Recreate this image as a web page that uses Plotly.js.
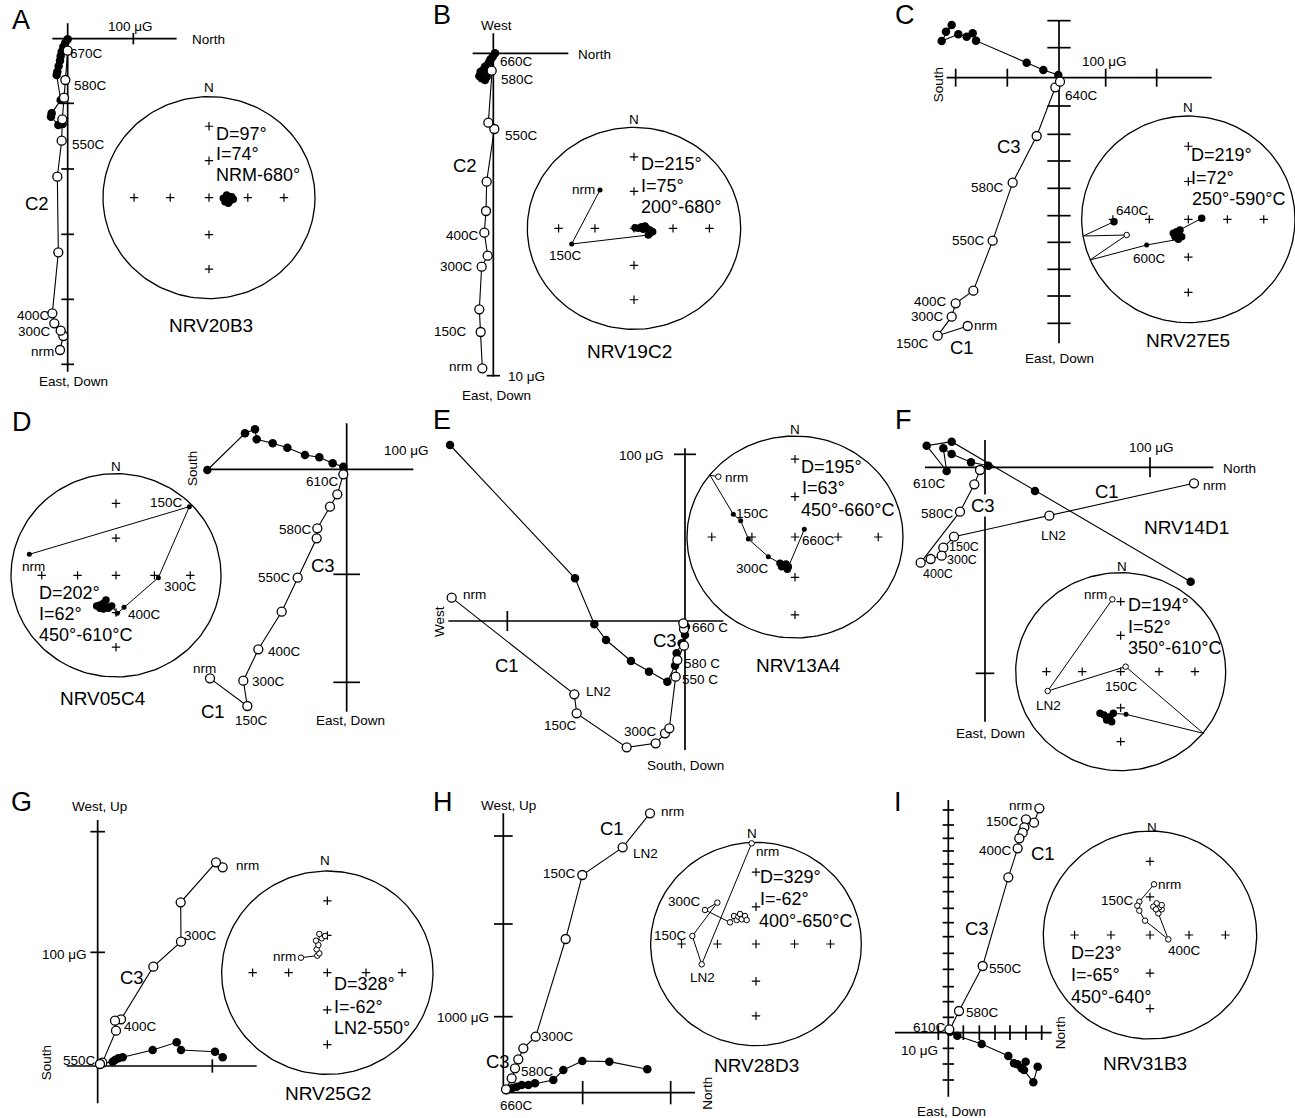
<!DOCTYPE html>
<html><head><meta charset="utf-8">
<script src="https://cdn.plot.ly/plotly-3.0.1.min.js"></script>
<style>html,body{margin:0;padding:0;background:#fff}</style>
</head><body>
<div id="chart" style="width:1295px;height:1118px"></div>
<script>
// ---------- DATA (plot units relative to each diagram origin; x right, y up) ----------
// Panel A  NRV20B3
const zA_openX = [-23,-13,-21,-40,-46,-28,-31,-18,-16,-11,-7,0];
const zA_openY = [-934,-892,-876,-854,-824,-641,-414,-306,-242,-177,-124,-36];
const zA_fillX = [-15,-28,-50,-48,-21,-33,-31,-27,-23,-21,-18,-13,-7,0];
const zA_fillY = [-256,-259,-234,-224,-184,-109,-99,-82,-66,-52,-39,-24,-12,-2];
const tickA_x = [197], tickA_y = [-194,-391,-587,-782,-977];
const netA_x = [43,53,63,73,58,48,63,68,53];
const netA_y = [-2,8,3,-5,-17,-12,-10,3,-7];
const netA_k = 'fffffffff';
// Panel B  NRV19C2
const zB_openX = [-33,-38,-42,-35,-17,-27,-22,-20,3,-15,-5];
const zB_openY = [-945,-836,-768,-640,-607,-538,-473,-385,-227,-208,-52];
const zB_fillX = [-20,-25,-35,-42,-38,-30,-25,-18,-12,-8,-2,5];
const zB_fillY = [-70,-80,-75,-68,-55,-50,-40,-35,-25,-18,-10,0];
const tickB_x = [], tickB_y = [-967];
const netB_x = [-102,-187,43,48,56,48,38,33,23,13,3,28];
const netB_y = [115,-47,-20,-15,-10,-5,0,7,5,0,2,-3];
const netB_k = 'ssffffffffff';
// Panel C  NRV27E5
const zC_openX = [-274,-364,-322,-310,-257,-199,-139,-67,-11,3];
const zC_openY = [-745,-774,-717,-677,-639,-489,-315,-175,-29,-12];
const zC_fillX = [-339,-322,-352,-302,-277,-259,-249,-97,-47,-2];
const zC_fillY = [138,158,110,130,123,133,111,45,23,8];
const tickC_x = [-310,-155,140,293];
const tickC_y = [171,90,-85,-170,-250,-332,-414,-494,-575,-655,-737];
const netC_x = [40,-25,-35,-45,-30,-20,-40,-30,-125,-295,-185,-315,-223];
const netC_y = [3,-32,-37,-42,-47,-52,-52,-60,-77,-122,-47,-50,-7];
const netC_k = 'ffffffffseoef';
// Panel D  NRV05C4
const zD_openX = [-410,-298,-310,-265,-195,-147,-90,-88,-50,-28,-10];
const zD_openY = [-627,-710,-634,-540,-427,-325,-207,-177,-112,-75,-15];
const zD_fillX = [-418,-305,-275,-270,-222,-178,-125,-82,-42,-10];
const zD_fillY = [-2,108,120,90,78,65,43,36,18,8];
const tickD_x = [], tickD_y = [-315,-639];
const netD_x = [-260,220,127,24,4,-13,-23,-28,-38,-30,-38,-48,-48,-58];
const netD_y = [63,206,-7,-96,-114,-92,-99,-94,-84,-74,-101,-89,-99,-92];
const netD_k = 'sssssfffffffff';
// Panel E  NRV13A4
const zE_openX = [-700,-332,-325,-175,-88,-60,-47,-28,-23,-3,-3,-5];
const zE_openY = [70,-220,-277,-379,-367,-337,-322,-167,-117,-74,-24,-7];
const zE_fillX = [-705,-330,-272,-237,-162,-108,-53,-30,-25,-10,0,3];
const zE_fillY = [528,128,-10,-57,-120,-152,-182,-134,-97,-67,-42,-17];
const tickE_x = [-533], tickE_y = [500];
const netE_x = [-230,-255,-185,-163,-140,-80,-45,-40,-35,-27,-20,-23,28];
const netE_y = [181,185,68,49,-6,-59,-79,-89,-87,-81,-89,-97,23];
const netE_k = 'oessssffffffs';
// Panel F  NRV14D1
const zF_openX = [627,193,-93,-125,-130,-163,-193,-75,-32,-15];
const zF_openY = [-48,-145,-208,-241,-265,-275,-286,-133,-51,-8];
const zF_fillX = [617,150,-100,-175,-115,-125,-100,-42,10];
const zF_fillY = [-343,-71,77,65,-11,57,40,15,5];
const tickF_x = [495], tickF_y = [-618];
const netF_x = [-25,-219,15,248,16,-22,-27,-32,-37,-42,-50,-62];
const netF_y = [217,-58,15,-185,-128,-125,-150,-135,-140,-145,-130,-125];
const netF_k = 'oooesfffffff';
// Panel G  NRV25G2
const zG_openX = [375,355,249,250,167,70,52,55,14,7];
const zG_openY = [596,611,491,373,298,140,136,106,10,6];
const zG_fillX = [375,352,250,237,165,75,62,52,45,7];
const zG_fillY = [26,43,48,71,48,26,23,18,13,6];
const tickG_x = [344], tickG_y = [703,341];
const netG_x = [-79,-30,-24,-32,-27,-34,-17,-24,-7];
const netG_y = [45,51,58,70,83,96,103,116,110];
const netG_k = 'ooooooooo';
// Panel H  NRV28D3
const zH_openX = [440,358,237,187,97,60,45,35,25,8];
const zH_openY = [838,736,653,461,168,133,100,73,43,10];
const zH_fillX = [432,318,237,180,150,95,75,55,40,25,10];
const zH_fillY = [70,93,95,68,38,28,23,23,18,13,8];
const tickH_x = [238,502], tickH_y = [770,506,228];
const netH_x = [-13,-163,-191,-116,-153,-78,-66,-58,-53,-48,-43,-33,-28];
const netH_y = [302,-61,24,124,102,65,84,72,82,90,74,84,72];
const netH_k = 'ooooooooooooo';
// Panel I  NRV31B3
const zI_openX = [273,257,233,228,223,213,208,180,103,32,3];
const zI_openY = [673,630,640,616,600,583,553,466,200,65,10];
const zI_fillX = [268,255,227,232,220,207,197,180,100,27,5];
const zI_fillY = [-102,-149,-112,-87,-107,-95,-92,-70,-34,-9,3];
const tickI_x = [-30,45,93,140,185,233,280];
const tickI_y = [668,623,583,545,506,466,423,373,330,288,238,190,138,93,46,-47,-94,-142];
const netI_x = [12,-32,-38,-32,-15,55,25,35,28,35,20,10,18];
const netI_y = [152,100,88,73,43,-13,65,77,83,90,95,85,77];
const netI_k = 'ooooooooooooo';
// stereonet grid inclinations
const gridInc = [60,30];

// ---------- LAYOUT CONFIG ----------
const W=1295, H=1118;
const FONT='"Liberation Sans", Arial, Helvetica, sans-serif';
const S=13.5, SS=12.5, BIG=18.5, TXT=18, NAME=19, LET=27;
// label: [zx, zy, text, size, anchor, rotate, bg]
const P = [
 {crop:[0,0], o:[203,116], axH:[-46,327], axV:[46,-999], tX:tickA_x, tXh:17, tY:tickA_y, tYh:19,
  open:[zA_openX,zA_openY], fill:[zA_fillX,zA_fillY],
  net:{c:[627,593], rx:318, ry:303, g:1, x:netA_x, y:netA_y, k:netA_k, line:false},
  labels:[[62,60,'A',LET,'center'],[390,78,'100 μG',S,'center'],[572,117,'North',S,'left'],[220,1145,'East, Down',S,'center'],
   [110,610,'C2',BIG,'center'],[208,160,'670C',S,'left'],[218,255,'580C',S,'left'],[212,432,'550C',S,'left'],
   [152,945,'400C',S,'right'],[155,995,'300C',S,'right'],[165,1055,'nrm',S,'right'],
   [628,262,'N',S,'center'],[646,402,'D=97°',TXT,'left'],[646,462,'I=74°',TXT,'left'],[646,525,'NRM-680°',TXT,'left'],[632,975,'NRV20B3',NAME,'center']]},
 {crop:[430,0], o:[190,160], axH:[-62,225], axV:[60,-970], tX:tickB_x, tXh:20, tY:tickB_y, tYh:20,
  open:[zB_openX,zB_openY], fill:[zB_fillX,zB_fillY],
  net:{c:[612,685], rx:320, ry:303, g:1, x:netB_x, y:netB_y, k:netB_k, line:true},
  labels:[[35,45,'B',LET,'center'],[200,75,'West',S,'center'],[440,162,'North',S,'left'],[200,1185,'East, Down',S,'center'],
   [232,1128,'10 μG',S,'left'],[206,185,'660C',S,'left'],[210,238,'580C',S,'left'],[222,405,'550C',S,'left'],
   [105,495,'C2',BIG,'center'],[150,705,'400C',S,'right'],[132,800,'300C',S,'right'],[115,995,'150C',S,'right'],[128,1100,'nrm',S,'right'],
   [612,358,'N',S,'center'],[497,568,'nrm',S,'right'],[405,765,'150C',S,'center'],[630,492,'D=215°',TXT,'left'],[630,558,'I=75°',TXT,'left'],
   [630,620,'200°-680°',TXT,'left'],[598,1055,'NRV19C2',NAME,'center']]},
 {crop:[860,0], o:[597,233], axH:[-337,458], axV:[173,-797], tX:tickC_x, tXh:27, tY:tickC_y, tYh:35,
  open:[zC_openX,zC_openY], fill:[zC_fillX,zC_fillY],
  net:{c:[985,658], rx:320, ry:310, g:1, x:netC_x, y:netC_y, k:netC_k, line:true},
  labels:[[135,45,'C',LET,'center'],[733,185,'100 μG',S,'center'],[235,255,'South',S,'center',-90],[598,1075,'East, Down',S,'center'],
   [447,438,'C3',BIG,'center'],[305,1043,'C1',BIG,'center'],[612,285,'640C',S,'left'],[435,562,'580C',S,'right'],[378,722,'550C',S,'right'],
   [265,905,'400C',S,'right'],[255,950,'300C',S,'right'],[210,1030,'150C',S,'right'],[338,975,'nrm',S,'left'],
   [985,322,'N',S,'center'],[765,632,'640C',S,'left'],[815,775,'600C',S,'left'],[990,465,'D=219°',TXT,'left'],[990,535,'I=72°',TXT,'left'],
   [993,598,'250°-590°C',TXT,'left'],[983,1020,'NRV27E5',NAME,'center']]},
 {crop:[0,405], o:[1040,193], axH:[-422,200], axV:[138,-727], tX:tickD_x, tXh:20, tY:tickD_y, tYh:40,
  open:[zD_openX,zD_openY], fill:[zD_fillX,zD_fillY],
  net:{c:[348,511], rx:315, ry:305, g:1, x:netD_x, y:netD_y, k:netD_k, line:true},
  labels:[[65,50,'D',LET,'center'],[1220,135,'100 μG',S,'center'],[578,190,'South',S,'center',-90],[1050,945,'East, Down',S,'center'],
   [970,480,'C3',BIG,'center'],[640,920,'C1',BIG,'center'],[1020,228,'610C',S,'right'],[940,373,'580C',S,'right'],[875,518,'550C',S,'right'],
   [800,740,'400C',S,'left'],[752,830,'300C',S,'left'],[755,945,'150C',S,'center'],[612,790,'nrm',S,'center'],
   [348,183,'N',S,'center'],[500,292,'150C',S,'center'],[100,485,'nrm',S,'center'],[488,545,'300C',S,'left'],[380,628,'400C',S,'left'],
   [113,565,'D=202°',TXT,'left'],[113,628,'I=62°',TXT,'left'],[113,690,'450°-610°C',TXT,'left'],[310,880,'NRV05C4',NAME,'center']]},
 {crop:[430,405], o:[765,648], axH:[-710,115], axV:[518,-387], tX:tickE_x, tXh:30, tY:tickE_y, tYh:33,
  open:[zE_openX,zE_openY], fill:[zE_fillX,zE_fillY],
  net:{c:[1095,396], rx:324, ry:303, g:1.09, x:netE_x, y:netE_y, k:netE_k, line:true},
  labels:[[35,45,'E',LET,'center'],[705,152,'100 μG',S,'right'],[28,650,'West',S,'center',-90],[765,1080,'South, Down',S,'center'],
   [230,780,'C1',BIG,'center'],[705,705,'C3',BIG,'center'],[95,568,'nrm',S,'left'],[465,860,'LN2',S,'left'],[390,960,'150C',S,'center'],
   [630,978,'300C',S,'center'],[782,668,'660 C',S,'left'],[760,775,'580 C',S,'left'],[752,823,'550 C',S,'left'],
   [1095,73,'N',S,'center'],[883,217,'nrm',S,'left'],[915,325,'150C',S,'left'],[968,490,'300C',S,'center'],[1112,405,'660C',S,'left'],
   [1110,185,'D=195°',TXT,'left'],[1112,250,'I=63°',TXT,'left'],[1110,315,'450°-660°C',TXT,'left'],[1105,780,'NRV13A4',NAME,'center']]},
 {crop:[880,405], o:[315,187], axH:[-180,685], axV:[82,-763], tX:tickF_x, tXh:30, tY:tickF_y, tYh:28,
  open:[zF_openX,zF_openY], fill:[zF_fillX,zF_fillY],
  net:{c:[722,800], rx:315, ry:297, g:1, x:netF_x, y:netF_y, k:netF_k, line:true},
  labels:[[70,45,'F',LET,'center'],[815,128,'100 μG',S,'center'],[1025,190,'North',S,'left'],[330,985,'East, Down',S,'center'],
   [680,258,'C1',BIG,'center'],[310,300,'C3',BIG,'center',0,true],[148,235,'610C',S,'center'],[225,325,'580C',S,'right'],
   [205,427,'150C',SS,'left'],[197,466,'300C',SS,'left'],[175,506,'400C',SS,'center'],[520,390,'LN2',S,'center'],[965,240,'nrm',S,'left'],
   [920,368,'NRV14D1',NAME,'center'],
   [725,483,'N',S,'center'],[685,568,'nrm',S,'right'],[505,900,'LN2',S,'center'],[725,845,'150C',S,'center'],
   [740,600,'D=194°',TXT,'left'],[740,665,'I=52°',TXT,'left'],[740,730,'350°-610°C',TXT,'left']]},
 {crop:[0,790], o:[293,828], axH:[-93,477], axV:[738,-112], tX:tickG_x, tXh:20, tY:tickG_y, tYh:22,
  open:[zG_openX,zG_openY], fill:[zG_fillX,zG_fillY],
  net:{c:[982,548], rx:317, ry:305, g:1, x:netG_x, y:netG_y, k:netG_k, line:true},
  labels:[[65,35,'G',LET,'center'],[298,50,'West, Up',S,'center'],[138,820,'South',S,'center',-90],[265,492,'100 μG',S,'right'],
   [395,562,'C3',BIG,'center'],[550,437,'300C',S,'left'],[370,710,'400C',S,'left'],[290,812,'550C',S,'right'],[705,225,'nrm',S,'left'],
   [975,212,'N',S,'center'],[890,500,'nrm',S,'right'],[998,583,'D=328°',TXT,'left'],[998,650,'I=-62°',TXT,'left'],
   [998,715,'LN2-550°',TXT,'left'],[985,910,'NRV25G2',NAME,'center']]},
 {crop:[430,790], o:[220,908], axH:[0,575], axV:[838,0], tX:tickH_x, tXh:35, tY:tickH_y, tYh:28,
  open:[zH_openX,zH_openY], fill:[zH_fillX,zH_fillY],
  net:{c:[978,462], rx:316, ry:305, g:1, x:netH_x, y:netH_y, k:netH_k, line:true},
  labels:[[38,35,'H',LET,'center'],[235,45,'West, Up',S,'center'],[832,910,'North',S,'center',-90],[260,945,'660C',S,'center'],
   [270,845,'580C',S,'left'],[330,740,'300C',S,'left'],[440,250,'150C',S,'right'],[605,190,'LN2',S,'left'],[690,65,'nrm',S,'left'],
   [545,115,'C1',BIG,'center'],[205,815,'C3',BIG,'center'],[180,682,'1000 μG',S,'right'],
   [965,130,'N',S,'center'],[975,185,'nrm',S,'left'],[762,335,'300C',S,'center'],[775,435,'150C',S,'right'],[818,563,'LN2',S,'center'],
   [986,262,'D=329°',TXT,'left'],[988,328,'I=-62°',TXT,'left'],[983,393,'400°-650°C',TXT,'left'],[980,825,'NRV28D3',NAME,'center']]},
 {crop:[880,790], o:[205,728], axH:[-160,310], axV:[698,-192], tX:tickI_x, tXh:22, tY:tickI_y, tYh:17,
  open:[zI_openX,zI_openY], fill:[zI_fillX,zI_fillY],
  net:{c:[810,435], rx:320, ry:312, g:1, x:netI_x, y:netI_y, k:netI_k, line:true},
  labels:[[55,35,'I',LET,'center'],[178,780,'10 μG',S,'right'],[215,965,'East, Down',S,'center'],[540,730,'North',S,'center',-90],
   [200,712,'610C',S,'right'],[255,668,'580C',S,'left'],[325,535,'550C',S,'left'],[290,415,'C3',BIG,'center'],[490,190,'C1',BIG,'center'],
   [398,180,'400C',S,'right'],[420,95,'150C',S,'right'],[460,45,'nrm',S,'right'],
   [815,112,'N',S,'center'],[832,283,'nrm',S,'left'],[765,330,'150C',S,'right'],[862,482,'400C',S,'left'],
   [570,490,'D=23°',TXT,'left'],[570,555,'I=-65°',TXT,'left'],[570,620,'450°-640°',TXT,'left'],[795,820,'NRV31B3',NAME,'center']]}
];

// ---------- BUILD ----------
const traces=[], annotations=[];
const layout={width:W,height:H,margin:{l:0,r:0,t:0,b:0},paper_bgcolor:'#fff',plot_bgcolor:'#fff',showlegend:false,
  font:{family:FONT,color:'#000'},annotations:annotations};
function axName(k){return k===1?'':String(k);}
function addAxes(k, pxX, pxY){
  // 3 plot units per screen pixel, origin at (pxX,pxY)
  const xa={domain:[0,1],range:[-pxX*3,(W-pxX)*3],visible:false,fixedrange:true,anchor:'y'+axName(k)};
  const ya={domain:[0,1],range:[-(H-pxY)*3,pxY*3],visible:false,fixedrange:true,anchor:'x'+axName(k)};
  if(k>1){xa.overlaying='x';ya.overlaying='y';}
  layout['xaxis'+axName(k)]=xa; layout['yaxis'+axName(k)]=ya;
  return {xaxis:'x'+axName(k),yaxis:'y'+axName(k)};
}
const LINE='#000';
function eqArea(inc){return Math.SQRT2*Math.sin((90-inc)/2*Math.PI/180);}

P.forEach((p,i)=>{
  const zk=2*i+1, nk=2*i+2;
  const za=addAxes(zk, p.crop[0]+p.o[0]/3, p.crop[1]+p.o[1]/3);
  const na=addAxes(nk, p.crop[0]+p.net.c[0]/3, p.crop[1]+p.net.c[1]/3);
  // Zijderveld axes + ticks
  const ax=[p.axH[0],p.axH[1],null,0,0,null], ay=[0,0,null,p.axV[0],p.axV[1],null];
  p.tX.forEach(t=>{ax.push(t,t,null);ay.push(p.tXh,-p.tXh,null);});
  p.tY.forEach(t=>{ax.push(-p.tYh,p.tYh,null);ay.push(t,t,null);});
  traces.push(Object.assign({x:ax,y:ay,mode:'lines',line:{color:LINE,width:1.7},hoverinfo:'skip'},za));
  // demagnetisation paths
  [p.fill,p.open].forEach(d=>{
    traces.push(Object.assign({x:d[0].concat([0]),y:d[1].concat([0]),mode:'lines',line:{color:LINE,width:1.1},hoverinfo:'skip'},za));
  });
  traces.push(Object.assign({x:p.fill[0],y:p.fill[1],mode:'markers',marker:{size:8.5,color:'#000',line:{width:0}},hoverinfo:'skip'},za));
  traces.push(Object.assign({x:p.open[0],y:p.open[1],mode:'markers',marker:{size:9,color:'#fff',line:{color:'#000',width:1.3}},hoverinfo:'skip'},za));
  // stereonet
  const n=p.net, cx=[], cy=[];
  for(let a=0;a<=360;a+=2){const r=a*Math.PI/180;cx.push(n.rx*Math.cos(r));cy.push(n.ry*Math.sin(r));}
  traces.push(Object.assign({x:cx,y:cy,mode:'lines',line:{color:LINE,width:1.3},hoverinfo:'skip'},na));
  const gx=[0],gy=[0];
  gridInc.forEach(inc=>{const f=eqArea(inc)*n.g;gx.push(f*n.rx,-f*n.rx,0,0);gy.push(0,0,f*n.ry,-f*n.ry);});
  traces.push(Object.assign({x:gx,y:gy,mode:'markers',marker:{symbol:'cross-thin',size:6,line:{color:'#000',width:1.2}},hoverinfo:'skip'},na));
  const kinds=n.k.split('');
  if(n.line) traces.push(Object.assign({x:n.x,y:n.y,mode:'lines',line:{color:LINE,width:1},hoverinfo:'skip'},na));
  const sel=(c)=>({x:n.x.filter((_,j)=>kinds[j]===c),y:n.y.filter((_,j)=>kinds[j]===c)});
  const f=sel('f'), s=sel('s'), o=sel('o');
  traces.push(Object.assign({x:f.x,y:f.y,mode:'markers',marker:{size:7.5,color:'#000'},hoverinfo:'skip'},na));
  traces.push(Object.assign({x:s.x,y:s.y,mode:'markers',marker:{size:5,color:'#000'},hoverinfo:'skip'},na));
  traces.push(Object.assign({x:o.x,y:o.y,mode:'markers',marker:{size:5.5,color:'#fff',line:{color:'#000',width:1}},hoverinfo:'skip'},na));
  // labels
  p.labels.forEach(L=>{
    const a={xref:za.xaxis,yref:za.yaxis,x:L[0]-p.o[0],y:p.o[1]-L[1],text:L[2],showarrow:false,
      xanchor:L[4]||'center',yanchor:'middle',borderpad:0,font:{family:FONT,size:L[3],color:'#000'}};
    if(L[5]) a.textangle=L[5];
    if(L[6]) a.bgcolor='#fff';
    annotations.push(a);
  });
});

Plotly.newPlot('chart',traces,layout,{staticPlot:true,displayModeBar:false});
</script>
</body></html>
